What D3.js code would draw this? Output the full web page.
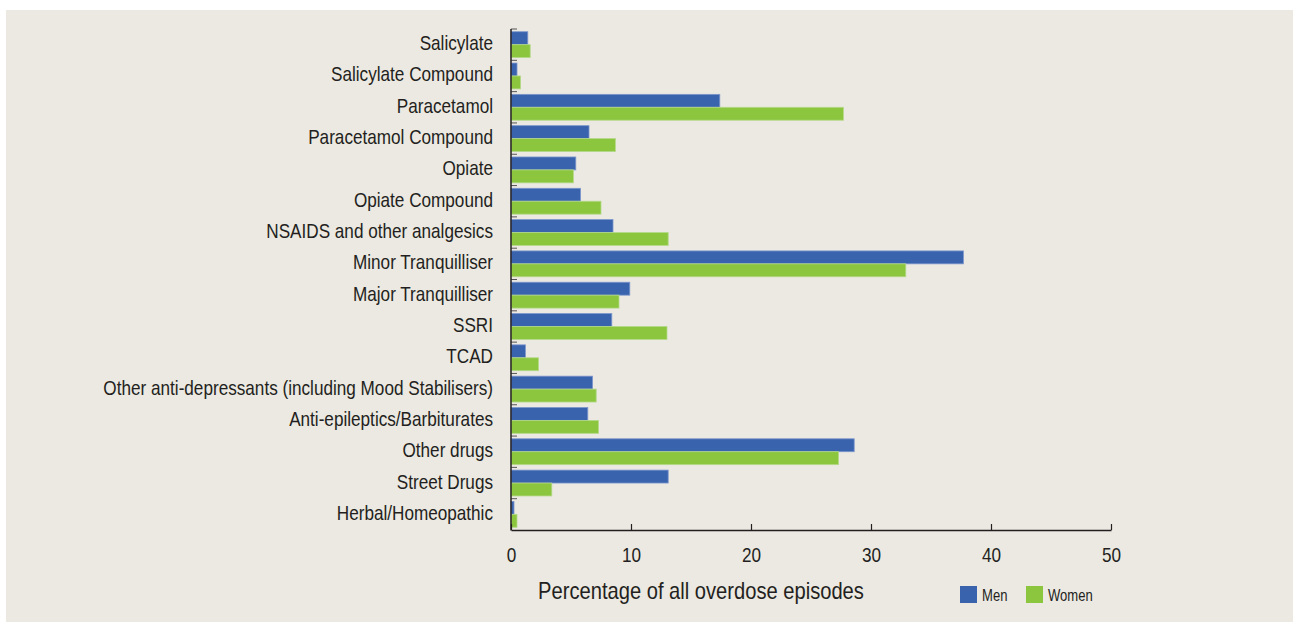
<!DOCTYPE html>
<html>
<head>
<meta charset="utf-8">
<script src="https://cdn.jsdelivr.net/npm/d3@7"></script>
<style>
  html, body { margin: 0; padding: 0; background: #ffffff; }
  svg { display: block; }
  text { font-family: "Liberation Sans", Arial, sans-serif; fill: #231f20; }
</style>
</head>
<body>
<svg id="chart" width="1293" height="622"></svg>
<script>
const categories = [
  "Salicylate", "Salicylate Compound", "Paracetamol", "Paracetamol Compound",
  "Opiate", "Opiate Compound", "NSAIDS and other analgesics", "Minor Tranquilliser",
  "Major Tranquilliser", "SSRI", "TCAD", "Other anti-depressants (including Mood Stabilisers)",
  "Anti-epileptics/Barbiturates", "Other drugs", "Street Drugs", "Herbal/Homeopathic"
];
const seriesNames = ["Men", "Women"];
const menValues   = [1.4, 0.5, 17.4, 6.5, 5.4, 5.8, 8.5, 37.7, 9.9, 8.4, 1.2, 6.8, 6.4, 28.6, 13.1, 0.25];
const womenValues = [1.6, 0.8, 27.7, 8.7, 5.2, 7.5, 13.1, 32.9, 9.0, 13.0, 2.3, 7.1, 7.3, 27.3, 3.4, 0.5];
const xTicks = [0, 10, 20, 30, 40, 50];
const xTitle = "Percentage of all overdose episodes";

const colors = { Men: "#3a63ae", Women: "#8cc63f" };
const strokes = { Men: "#7d97cc", Women: "#b4d98a" };

const svg = d3.select("#chart");

svg.append("rect").attr("x", 6).attr("y", 10).attr("width", 1287).attr("height", 612).attr("fill", "#ece9e2");

const x = d3.scaleLinear().domain([0, 50]).range([511, 1111]);
const y = d3.scaleBand().domain(categories).range([29, 530]).padding(0);
const bw = y.bandwidth();
const ySub = d3.scaleBand().domain(seriesNames).range([bw * 0.087, bw * 0.913]).padding(0);

const data = categories.map((c, i) => ({ cat: c, Men: menValues[i], Women: womenValues[i] }));

const groups = svg.append("g").selectAll("g").data(data).join("g")
  .attr("transform", d => `translate(0,${y(d.cat)})`);

groups.selectAll("rect").data(d => seriesNames.map(s => ({ s, v: d[s] }))).join("rect")
  .attr("x", x(0))
  .attr("y", d => ySub(d.s))
  .attr("width", d => x(d.v) - x(0))
  .attr("height", ySub.bandwidth())
  .attr("fill", d => colors[d.s])
  .attr("stroke", d => strokes[d.s])
  .attr("stroke-width", 0.8);

// y axis ticks (inward, at band boundaries)
svg.append("g").selectAll("line").data(categories.map(c => y(c))).join("line")
  .attr("x1", x(0)).attr("x2", x(0) + 6)
  .attr("y1", d => d).attr("y2", d => d)
  .attr("stroke", "#555").attr("stroke-width", 1);

svg.append("line").attr("x1", x(0)).attr("x2", x(0)).attr("y1", 29).attr("y2", 530.5)
  .attr("stroke", "#231f20").attr("stroke-width", 1.5);

// condensed text helper: horizontal squeeze of a regular sans
function place(sel, px, py, sx) {
  sel.attr("x", 0).attr("y", 0).attr("transform", `translate(${px},${py}) scale(${sx},1)`);
}

// y labels
const yl = svg.append("g").selectAll("text").data(categories).join("text")
  .attr("text-anchor", "end")
  .attr("font-size", 21)
  .text(d => d);
let longest = 0;
yl.each(function () { longest = Math.max(longest, this.getComputedTextLength()); });
const sx = 390 / longest;
yl.each(function (d) { place(d3.select(this), 493, y(d) + bw / 2 + 5.5, sx); });

// x axis
const xAxis = d3.axisBottom(x).tickValues(xTicks).tickSize(0).tickPadding(0).tickFormat(d3.format("d"));
const gx = svg.append("g").attr("transform", "translate(0,530)").call(xAxis);
gx.select(".domain").attr("stroke", "#231f20").attr("stroke-width", 1.5);
gx.selectAll(".tick text").attr("dy", null).attr("font-size", 21).attr("fill", "#231f20")
  .attr("font-family", "\"Liberation Sans\", Arial, sans-serif")
  .each(function () { place(d3.select(this), 0, 32, sx); });
gx.selectAll(".tick").append("line").attr("y1", 0).attr("y2", -6).attr("stroke", "#231f20").attr("stroke-width", 1.2);

// x title
const tt = svg.append("text").attr("text-anchor", "middle").attr("font-size", 23).text(xTitle);
const tsx = 326 / tt.node().getComputedTextLength();
place(tt, 701, 599, tsx);

// legend
const legend = svg.append("g").selectAll("g").data(seriesNames).join("g")
  .attr("transform", (d, i) => `translate(${[960, 1026][i]},586)`);
legend.append("rect").attr("width", 17).attr("height", 17).attr("fill", d => colors[d]);
legend.append("text").attr("font-size", 16).text(d => d)
  .each(function () { place(d3.select(this), 22, 15, sx); });
</script>
</body>
</html>
